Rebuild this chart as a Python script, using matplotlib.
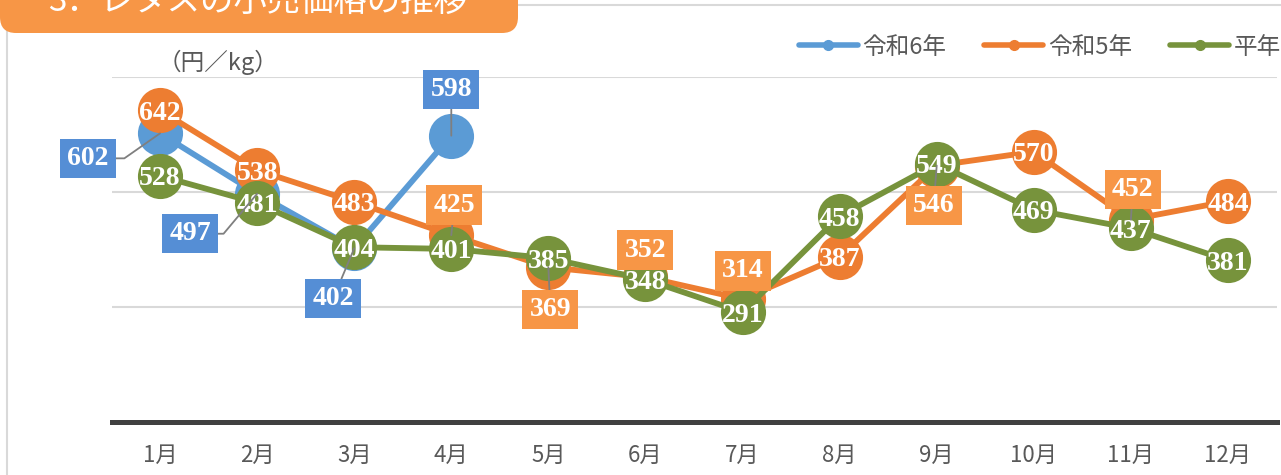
import numpy as np
import matplotlib
matplotlib.use("Agg")
import matplotlib.pyplot as plt
from matplotlib.patches import FancyBboxPatch, Rectangle
from matplotlib.lines import Line2D

plt.rcParams['font.family'] = ['Noto Sans CJK JP', 'DejaVu Sans']

# データ（円/kg）
months = ['1月', '2月', '3月', '4月', '5月', '6月', '7月', '8月', '9月', '10月', '11月', '12月']
r6 = [602, 497, 402, 598, np.nan, np.nan, np.nan, np.nan, np.nan, np.nan, np.nan, np.nan]
r5 = [642, 538, 483, 425, 369, 352, 314, 387, 546, 570, 452, 484]
heinen = [528, 481, 404, 401, 385, 348, 291, 458, 549, 469, 437, 381]
series_names = ['令和6年', '令和5年', '平年']

title = '3．レタスの小売価格の推移'
unit = '（円／kg）'

# ラベル位置 (dx, dy [px], 引出線) / None = マーカー内
r6_lab = [(-72, -22, 'elbow35'), (-67, -37, 'elbow50'), (-21, -47, 'line'), (0, 49, 'line')]
r5_lab = [None, None, None, (3, 33, 'line'), (2, -39, 'line'), (0, 30, None), (0, 31, None),
          None, (-3, -37, 'line'), None, (2, 33, 'line'), None]
hn_lab = [None] * 12

c_blue = '#5B9BD5'
c_orange = '#ED7D31'
c_green = '#77933C'
box_blue = '#558ED5'
box_orange = '#F79646'
gray_txt = '#595959'

W, H = 1281, 475
fig = plt.figure(figsize=(W / 100, H / 100), dpi=100)
ax = fig.add_axes([111.5 / W, 1 - 422 / H, 1165 / W, (422 - 77) / H])

x = np.arange(len(months))
num_font = dict(family='Liberation Serif', weight='bold', size=20, color='white')

series = [(r6, c_blue, box_blue, r6_lab),
          (r5, c_orange, box_orange, r5_lab),
          (heinen, c_green, None, hn_lab)]

for k, (vals, col, bcol, labs) in enumerate(series):
    ax.plot(x, vals, color=col, lw=4.2, marker='o', ms=32.5, mec='none',
            zorder=3 + k, clip_on=False, solid_capstyle='round')

for k, (vals, col, bcol, labs) in enumerate(series):
    for i, v in enumerate(vals):
        if np.isnan(v) or i >= len(labs):
            continue
        lab = labs[i]
        if lab is None:
            ax.text(i, v, f'{v:.0f}', ha='center', va='center_baseline',
                    zorder=10, **num_font)
        else:
            dx, dy, lead = lab
            ap = None
            if lead is not None:
                cs = 'arc3'
                if lead.startswith('elbow'):
                    cs = f'angle,angleA=0,angleB={lead[5:]},rad=0'
                ap = dict(arrowstyle='-', color='#7F7F7F', lw=1.3,
                          shrinkA=0, shrinkB=0, connectionstyle=cs)
            ax.annotate(f'{v:.0f}', xy=(i, v), xytext=(dx, dy),
                        textcoords='offset pixels', ha='center', va='center_baseline',
                        bbox=dict(boxstyle='square,pad=0.26', fc=bcol, ec='none'),
                        arrowprops=ap, zorder=11, annotation_clip=False, **num_font)

ax.set_xlim(-0.5, 11.5)
ax.set_ylim(100, 700)
ax.set_yticks([100, 300, 500, 700])
ax.yaxis.grid(True, color='#D9D9D9', lw=1.5)
ax.set_axisbelow(True)
ax.tick_params(axis='y', length=0, labelleft=False)
ax.set_xticks(x, months)
ax.tick_params(axis='x', length=0, pad=16, labelsize=16, labelcolor=gray_txt)
for s in ['left', 'right', 'top']:
    ax.spines[s].set_visible(False)
ax.spines['bottom'].set_color('#404040')
ax.spines['bottom'].set_linewidth(3.6)
ax.spines['bottom'].set_zorder(2)
ax.patch.set_alpha(0)

# 凡例
handles = [Line2D([], [], color=c, lw=4, marker='o', ms=7, solid_capstyle='round')
           for c in [c_blue, c_orange, c_green]]
fig.legend(handles, series_names, loc='center right', bbox_to_anchor=(1281 / W, 1 - 47 / H),
           ncol=3, frameon=False, fontsize=17, labelcolor=gray_txt, handlelength=2.5,
           handletextpad=0.2, columnspacing=1.6, borderaxespad=0, borderpad=0)

fig.text(218 / W, 1 - 62 / H, unit, ha='center', va='center', fontsize=17, color=gray_txt)

# 枠とタイトル
frame = Rectangle((7 / 100, -0.5), 20, (H - 5) / 100 + 0.5, transform=fig.dpi_scale_trans,
                  fc='none', ec='#D9D9D9', lw=1.5, zorder=0)
fig.patches.append(frame)
tbox = FancyBboxPatch((0, (H - 33) / 100), 5.18, 1.0,
                      boxstyle='round,pad=0,rounding_size=0.16',
                      transform=fig.dpi_scale_trans, fc=box_orange, ec='none', zorder=1)
fig.patches.append(tbox)
fig.text(48 / W, 1 - 11 / H, title, ha='left', va='baseline', fontsize=24, color='white', zorder=2)

fig.savefig('out.png', dpi=100)
